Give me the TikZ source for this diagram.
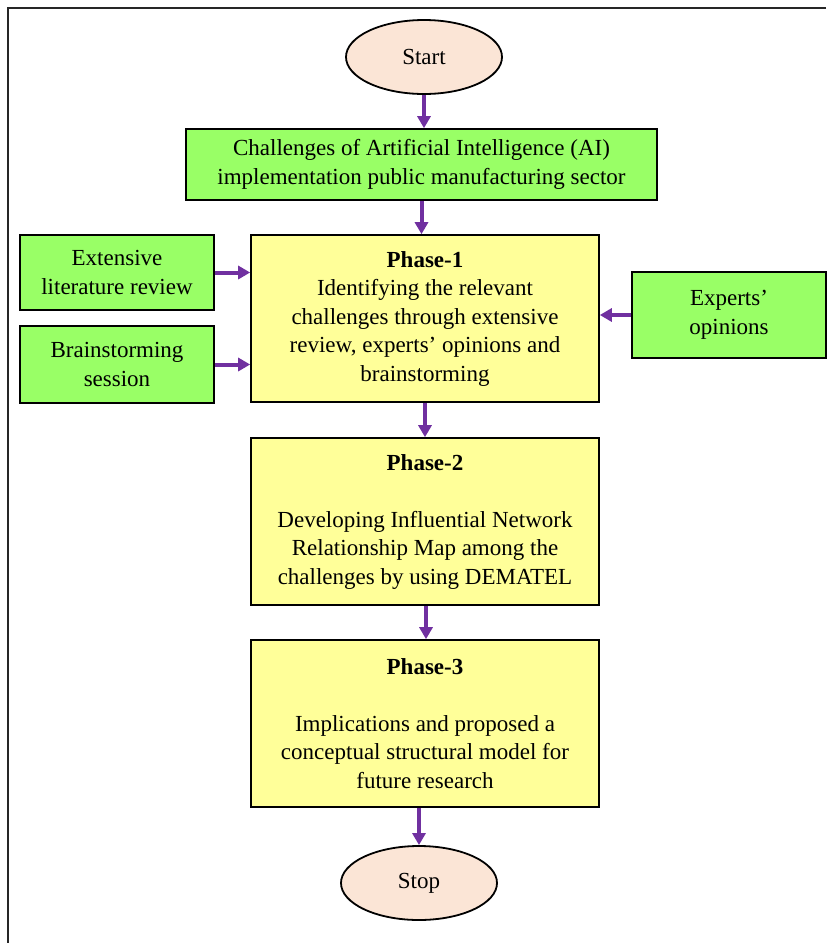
\documentclass[tikz,border=0pt]{standalone}
\usepackage{fontspec}
\setmainfont{Liberation Serif}
\usepackage{xcolor}
\definecolor{box_green}{RGB}{153, 255, 102}
\definecolor{phase_yellow}{RGB}{255, 255, 153}
\definecolor{term_peach}{RGB}{251, 229, 214}
\definecolor{flow_purple}{RGB}{112, 48, 160}
\usetikzlibrary{shapes.geometric, arrows.meta}

\begin{document}
\begin{tikzpicture}[x=0.5pt, y=-0.5pt,
    every node/.style={font=\fontsize{11.5}{14.25}\selectfont, align=center, inner sep=0pt},
    terminal/.style={ellipse, draw, line width=0.9pt, fill=term_peach, minimum width=78pt, minimum height=37pt},
    inputbox/.style={rectangle, draw, line width=0.8pt, fill=box_green, minimum width=97pt},
    phasebox/.style={rectangle, draw, line width=0.8pt, fill=phase_yellow, minimum width=174pt, minimum height=83.5pt},
    flow/.style={draw=flow_purple, line width=2pt, -{Triangle[length=6pt, width=6.5pt]}}]
    \useasboundingbox (0,0) rectangle (826,943);

    % Outer frame
    \draw[line width=1pt, black!85] (826,8) -- (8,8) -- (8,943);

    % Terminals
    \node[terminal] (start) at (424, 57) {Start};
    \node[terminal] (stop) at (419, 883) {Stop};

    % Problem statement
    \node[inputbox, minimum width=235.5pt, minimum height=35.5pt] (chal) at (421.5, 164.5)
        {Challenges of Artificial Intelligence (AI)\\implementation public manufacturing sector};

    % Inputs to phase 1
    \node[inputbox, minimum height=37.5pt] (lit) at (117, 272.5) {Extensive\\literature review};
    \node[inputbox, minimum height=38.5pt] (brain) at (117, 364.5) {Brainstorming\\session};
    \node[inputbox, minimum height=43pt] (expert) at (729, 315) {Experts’\\opinions};

    % Phases
    \node[phasebox] (p1) at (425, 318.5) {\textbf{Phase-1}\\Identifying the relevant\\challenges through extensive\\review, experts’ opinions and\\brainstorming};
    \node[phasebox] (p2) at (425, 521.5) {\textbf{Phase-2}\\[14.25pt]Developing Influential Network\\Relationship Map among the\\challenges by using DEMATEL};
    \node[phasebox] (p3) at (425, 723.5) {\textbf{Phase-3}\\[14.25pt]Implications and proposed a\\conceptual structural model for\\future research};

    % Connections
    \draw[flow] (start) -- (start |- chal.north);
    \draw[flow] (chal) -- (chal |- p1.north);
    \draw[flow] (lit) -- (lit -| p1.west);
    \draw[flow] (brain) -- (brain -| p1.west);
    \draw[flow] (expert) -- (expert -| p1.east);
    \draw[flow] (p1) -- (p2);
    \draw[flow] ([xshift=0.5pt]p2.south) -- ([xshift=0.5pt]p3.north);
    \draw[flow] (stop |- p3.south) -- (stop);
\end{tikzpicture}
\end{document}
